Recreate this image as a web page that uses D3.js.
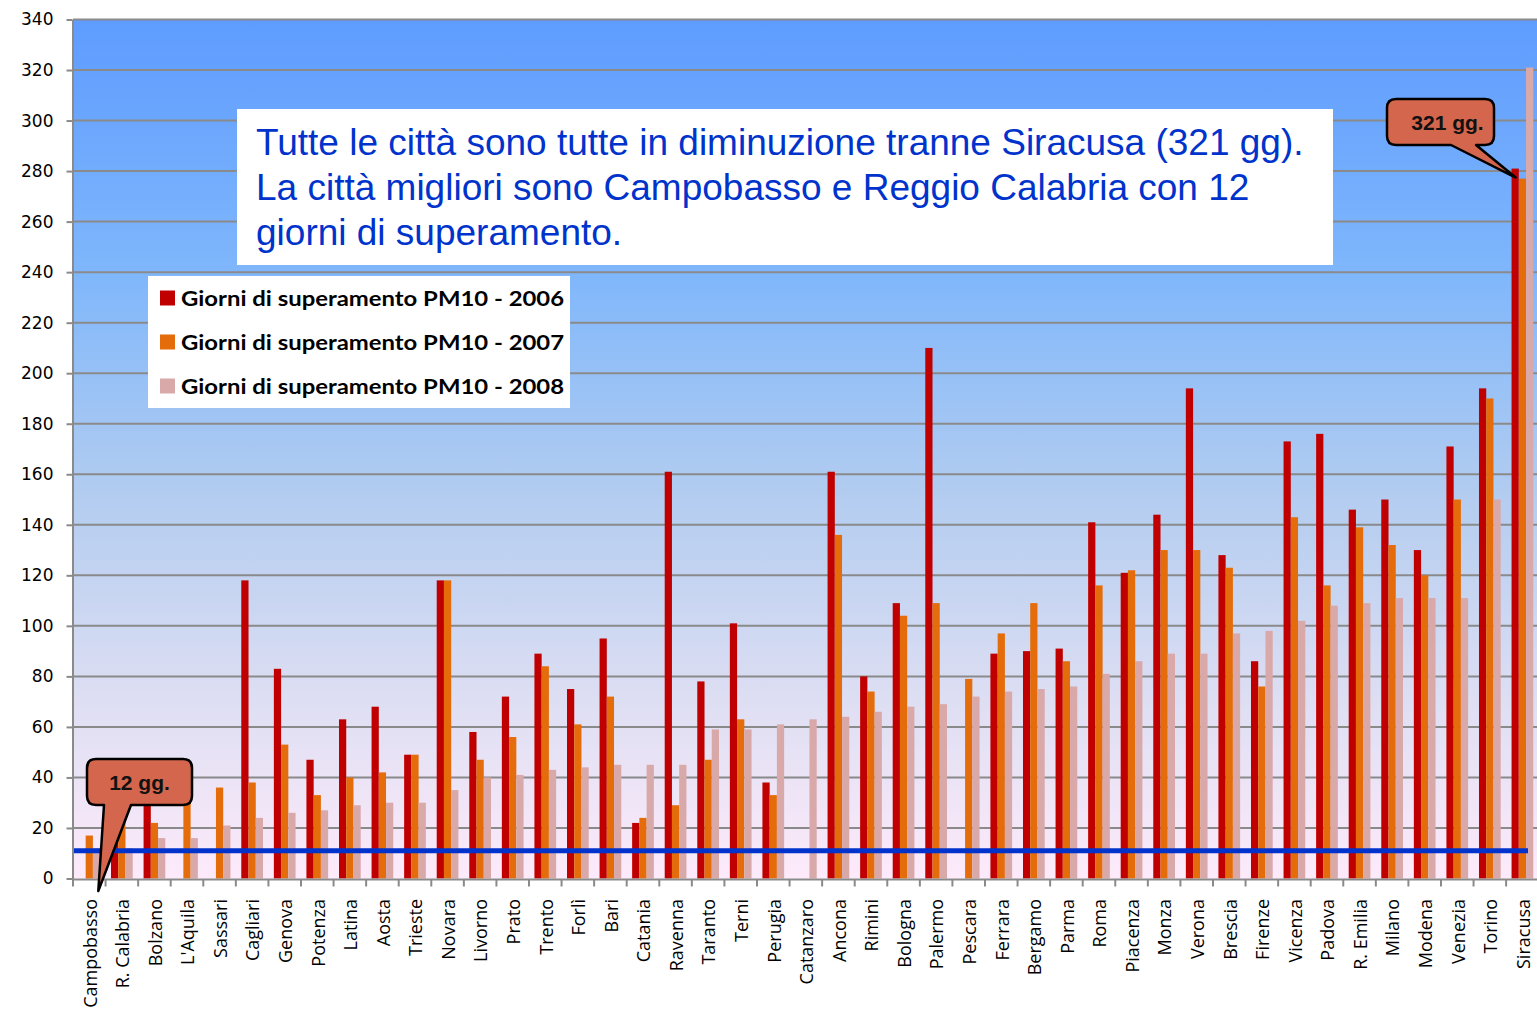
<!DOCTYPE html>
<html>
<head>
<meta charset="utf-8">
<script src="https://cdn.jsdelivr.net/npm/d3@7"></script>
<style>
  body { margin: 0; background: #fff; }
  svg { display: block; }
</style>
</head>
<body>
<div id="chart"></div>
<script>
// Cities, sorted by 2008 exceedance days
const cities = ["Campobasso", "R. Calabria", "Bolzano", "L'Aquila", "Sassari", "Cagliari", "Genova", "Potenza",
  "Latina", "Aosta", "Trieste", "Novara", "Livorno", "Prato", "Trento", "Forlì", "Bari", "Catania", "Ravenna",
  "Taranto", "Terni", "Perugia", "Catanzaro", "Ancona", "Rimini", "Bologna", "Palermo", "Pescara", "Ferrara",
  "Bergamo", "Parma", "Roma", "Piacenza", "Monza", "Verona", "Brescia", "Firenze", "Vicenza", "Padova",
  "R. Emilia", "Milano", "Modena", "Venezia", "Torino", "Siracusa"];

const days2006 = [null, 31, 34, null, null, 118, 83, 47, 63, 68, 49, 118, 58, 72, 89, 75, 95, 22, 161,
  78, 101, 38, null, 161, 80, 109, 210, null, 89, 90, 91, 141, 121, 144, 194, 128, 86, 173, 176,
  146, 150, 130, 171, 194, 281];
const days2007 = [17, 24, 22, 31, 36, 38, 53, 33, 40, 42, 49, 118, 47, 56, 84, 61, 72, 24, 29,
  47, 63, 33, null, 136, 74, 104, 109, 79, 97, 109, 86, 116, 122, 130, 130, 123, 76, 143, 116,
  139, 132, 120, 150, 190, 277];
const days2008 = [12, 12, 16, 16, 21, 24, 26, 27, 29, 30, 30, 35, 40, 41, 43, 44, 45, 45, 45,
  59, 59, 61, 63, 64, 66, 68, 69, 72, 74, 75, 76, 81, 86, 89, 89, 97, 98, 102, 108,
  109, 111, 111, 111, 150, 321];

const seriesNames = ["Giorni di superamento PM10 - 2006", "Giorni di superamento PM10 - 2007", "Giorni di superamento PM10 - 2008"];
const seriesColors = ["#C00000", "#E46C0A", "#D9A9AA"];
const yTicks = d3.range(0, 341, 20);
const limitDays = 11;

const noteLines = [
  "Tutte le città sono tutte in diminuzione tranne Siracusa (321 gg).",
  "La città migliori sono Campobasso e Reggio Calabria con 12",
  "giorni di superamento."
];

const width = 1537, height = 1016;
const plotLeft = 73, plotRight = 1538.7, plotTop = 19.5, plotBottom = 878.5;

const svg = d3.select('#chart').append('svg')
    .attr('width', width)
    .attr('height', height);

const x = d3.scaleBand().domain(cities).range([plotLeft, plotRight]).padding(0);
const bw = x.bandwidth();
const xs = d3.scaleBand().domain(d3.range(3)).range([bw * 0.75 / 4.5, bw * 3.75 / 4.5]).padding(0);
const y = d3.scaleLinear().domain([0, 340]).range([plotBottom, plotTop]);

// Background gradient
const grad = svg.append('defs').append('linearGradient')
    .attr('id', 'bg').attr('x1', 0).attr('y1', 0).attr('x2', 0).attr('y2', 1);
[[0, '#5e9cff'], [0.3, '#80b7fb'], [0.55, '#b2ccf0'], [0.8, '#dfdff3'], [1, '#fdeafa']].forEach(s => {
  grad.append('stop').attr('offset', s[0]).attr('stop-color', s[1]);
});

svg.append('rect')
    .attr('x', plotLeft).attr('y', y(340))
    .attr('width', width - plotLeft).attr('height', y(0) - y(340))
    .attr('fill', 'url(#bg)');

// Gridlines
svg.append('g').selectAll('line')
  .data(yTicks.filter(d => d > 0))
  .join('line')
    .attr('x1', plotLeft).attr('x2', width)
    .attr('y1', d => y(d)).attr('y2', d => y(d))
    .attr('stroke', '#8a8a8a').attr('stroke-width', 2);

// Bars
const series = [days2006, days2007, days2008];
const groups = svg.append('g').selectAll('g')
  .data(cities)
  .join('g')
    .attr('transform', d => `translate(${x(d)},0)`);

groups.selectAll('rect')
  .data((c, i) => series.map((s, k) => ({ k, v: s[i] })).filter(d => d.v != null))
  .join('rect')
    .attr('x', d => xs(d.k))
    .attr('width', xs.bandwidth())
    .attr('y', d => y(d.v))
    .attr('height', d => y(0) - y(d.v))
    .attr('fill', d => seriesColors[d.k]);

// Limit line
svg.append('line')
    .attr('x1', plotLeft).attr('x2', x('Siracusa') + xs(2) + 2)
    .attr('y1', y(limitDays)).attr('y2', y(limitDays))
    .attr('stroke', '#0033CC').attr('stroke-width', 5);

// Y axis
const yAxis = svg.append('g')
    .attr('transform', `translate(${plotLeft - 0.5},0)`)
    .call(d3.axisLeft(y).tickValues(yTicks).tickSize(6).tickPadding(13).tickSizeOuter(0));
yAxis.select('.domain').attr('stroke', '#8a8a8a').attr('stroke-width', 2);
yAxis.selectAll('.tick line').attr('stroke', '#8a8a8a').attr('stroke-width', 2);
yAxis.selectAll('.tick text')
    .attr('font-family', 'DejaVu Sans').attr('font-size', 17).attr('fill', '#000');

// X axis
svg.append('line')
    .attr('x1', plotLeft - 1).attr('x2', width)
    .attr('y1', plotBottom + 1).attr('y2', plotBottom + 1)
    .attr('stroke', '#8a8a8a').attr('stroke-width', 2);
svg.append('g').selectAll('line')
  .data(cities)
  .join('line')
    .attr('x1', d => x(d)).attr('x2', d => x(d))
    .attr('y1', plotBottom + 1).attr('y2', plotBottom + 8)
    .attr('stroke', '#8a8a8a').attr('stroke-width', 2);

svg.append('g').selectAll('text')
  .data(cities)
  .join('text')
    .attr('transform', d => `translate(${x(d) + bw / 2 + 1},899) rotate(-90)`)
    .attr('text-anchor', 'end')
    .attr('dy', '0.35em')
    .attr('font-family', 'Open Sans').attr('font-size', 18).attr('fill', '#000')
    .text(d => d);

// Legend
const legend = svg.append('g');
legend.append('rect')
    .attr('x', 148).attr('y', 276).attr('width', 422).attr('height', 132)
    .attr('fill', '#fff');
seriesNames.forEach((name, k) => {
  const cy = 298 + k * 44;
  legend.append('rect')
      .attr('x', 160).attr('y', cy - 7.5).attr('width', 15).attr('height', 15)
      .attr('fill', seriesColors[k]);
  legend.append('text')
      .attr('x', 181).attr('y', cy).attr('dy', '0.36em')
      .attr('font-family', 'Lato').attr('font-weight', 'bold').attr('font-size', 21)
      .attr('textLength', 383).attr('lengthAdjust', 'spacingAndGlyphs')
      .attr('fill', '#000')
      .text(name);
});

// Note box
const note = svg.append('g');
note.append('rect')
    .attr('x', 237).attr('y', 109).attr('width', 1096).attr('height', 156)
    .attr('fill', '#fff');
note.selectAll('text')
  .data(noteLines)
  .join('text')
    .attr('x', 256).attr('y', (d, i) => 155 + i * 45)
    .attr('font-family', 'Liberation Sans').attr('font-size', 37).attr('fill', '#0033CC')
    .text(d => d);

// Callouts
function callout(x0, y0, x1, y1, baseL, baseR, tip, label, textShift) {
  const r = 9;
  const p = d3.path();
  p.moveTo(x0 + r, y0);
  p.lineTo(x1 - r, y0);
  p.quadraticCurveTo(x1, y0, x1, y0 + r);
  p.lineTo(x1, y1 - r);
  p.quadraticCurveTo(x1, y1, x1 - r, y1);
  p.lineTo(baseR, y1);
  p.lineTo(tip[0], tip[1]);
  p.lineTo(baseL, y1);
  p.lineTo(x0 + r, y1);
  p.quadraticCurveTo(x0, y1, x0, y1 - r);
  p.lineTo(x0, y0 + r);
  p.quadraticCurveTo(x0, y0, x0 + r, y0);
  p.closePath();
  const g = svg.append('g');
  g.append('path').attr('d', p.toString())
      .attr('fill', '#D4664D').attr('stroke', '#000').attr('stroke-width', 2.5)
      .attr('stroke-linejoin', 'round');
  g.append('text')
      .attr('x', (x0 + x1) / 2 + textShift).attr('y', (y0 + y1) / 2 + 1).attr('dy', '0.35em')
      .attr('text-anchor', 'middle')
      .attr('font-family', 'Liberation Sans').attr('font-weight', 'bold').attr('font-size', 21)
      .attr('fill', '#111')
      .text(label);
}

callout(87, 759, 192, 805, 104, 131, [x('Campobasso') + bw / 2 + 9, 891], '12 gg.', 0);
callout(1387, 99, 1494, 145, 1451, 1476,
  [x('Siracusa') + xs(0) + xs.bandwidth() / 2 + 0.5, y(days2006[cities.indexOf('Siracusa')]) + 9], '321 gg.', 7);
</script>
</body>
</html>
